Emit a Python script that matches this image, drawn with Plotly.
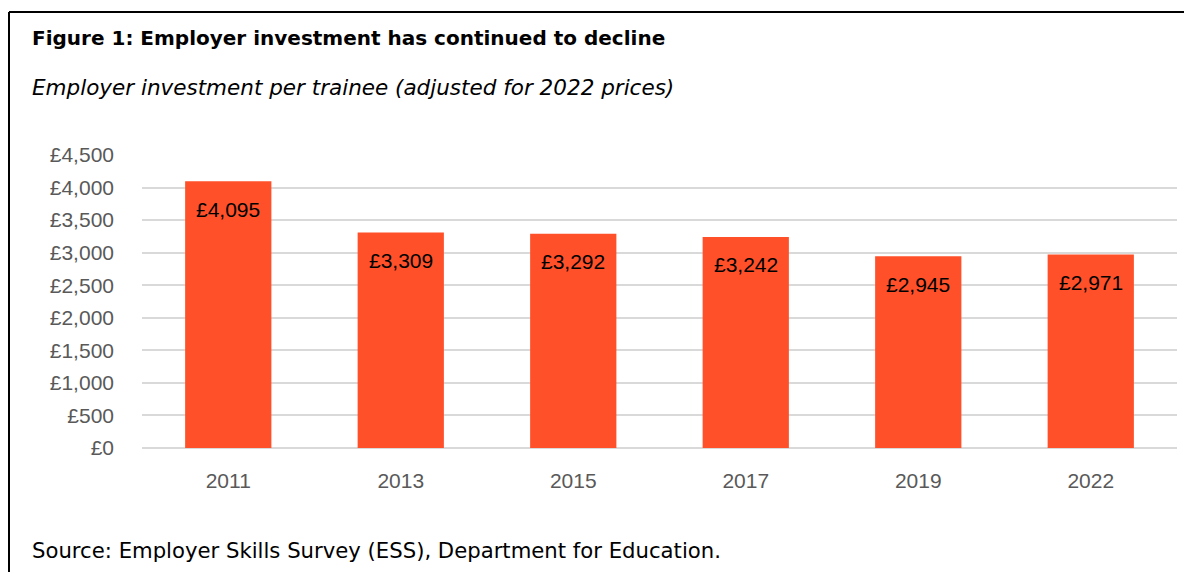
import plotly.graph_objects as go

years = ["2011", "2013", "2015", "2017", "2019", "2022"]
investment = [4095, 3309, 3292, 3242, 2945, 2971]
value_labels = ["£4,095", "£3,309", "£3,292", "£3,242", "£2,945", "£2,971"]
y_ticks = [0, 500, 1000, 1500, 2000, 2500, 3000, 3500, 4000, 4500]
y_tick_labels = ["£0", "£500", "£1,000", "£1,500", "£2,000", "£2,500", "£3,000", "£3,500", "£4,000", "£4,500"]

title_text = "Figure 1: Employer investment has continued to decline"
subtitle_text = "Employer investment per trainee (adjusted for 2022 prices)"
source_text = "Source: Employer Skills Survey (ESS), Department for Education."

W, H = 1184, 572
ml, mr, mt, mb = 142, 7, 155, 124

fig = go.Figure()
fig.add_trace(go.Bar(
    x=years, y=investment, width=0.5,
    marker=dict(color="#FF5029", line=dict(width=0)),
    hoverinfo="x+y",
))

for i, (v, lab) in enumerate(zip(investment, value_labels)):
    fig.add_annotation(x=i, y=v, text=lab, showarrow=False, yanchor="middle",
                       yshift=-28, font=dict(family="Liberation Sans, Arial", size=21, color="#000000"))

frame_font = "DejaVu Sans, Tahoma, Verdana"

def px_x(p):
    return (p - ml) / (W - ml - mr)
def px_y(p):
    return (H - p - mb) / (H - mt - mb)

fig.add_annotation(xref="paper", yref="paper", x=px_x(30), y=px_y(38),
                   text="<b>" + title_text + "</b>", showarrow=False, xanchor="left", yanchor="middle",
                   font=dict(family=frame_font, size=20, color="#000000"))
fig.add_annotation(xref="paper", yref="paper", x=px_x(30), y=px_y(88),
                   text="<i>" + subtitle_text + "</i>", showarrow=False, xanchor="left", yanchor="middle",
                   font=dict(family=frame_font, size=21.5, color="#000000"))
fig.add_annotation(xref="paper", yref="paper", x=px_x(30), y=px_y(550),
                   text=source_text, showarrow=False, xanchor="left", yanchor="middle",
                   font=dict(family=frame_font, size=21.2, color="#000000"))

fig.add_shape(type="line", xref="paper", yref="paper", x0=px_x(9), x1=px_x(1190), y0=px_y(12), y1=px_y(12),
              line=dict(color="#000000", width=2))
fig.add_shape(type="line", xref="paper", yref="paper", x0=px_x(9), x1=px_x(9), y0=px_y(12), y1=px_y(580),
              line=dict(color="#000000", width=2))

fig.update_layout(
    width=W, height=H,
    margin=dict(l=ml, r=mr, t=mt, b=mb),
    paper_bgcolor="white", plot_bgcolor="white",
    showlegend=False,
    xaxis=dict(type="category", range=[-0.5, len(years) - 0.5], showgrid=False, showline=False, ticks="",
               ticklabelstandoff=18,
               tickfont=dict(family="Liberation Sans, Arial", size=21, color="#595959")),
    yaxis=dict(range=[0, 4500], tickvals=y_ticks, ticktext=y_tick_labels,
               showgrid=True, gridcolor="#D9D9D9", gridwidth=2, zeroline=True, zerolinecolor="#D9D9D9",
               zerolinewidth=2, ticks="", ticklabelstandoff=27,
               tickfont=dict(family="Liberation Sans, Arial", size=21, color="#595959")),
)

fig.write_html("out.html", config={"displayModeBar": False},
               post_script="document.body.style.margin='0';document.body.style.padding='0';")
